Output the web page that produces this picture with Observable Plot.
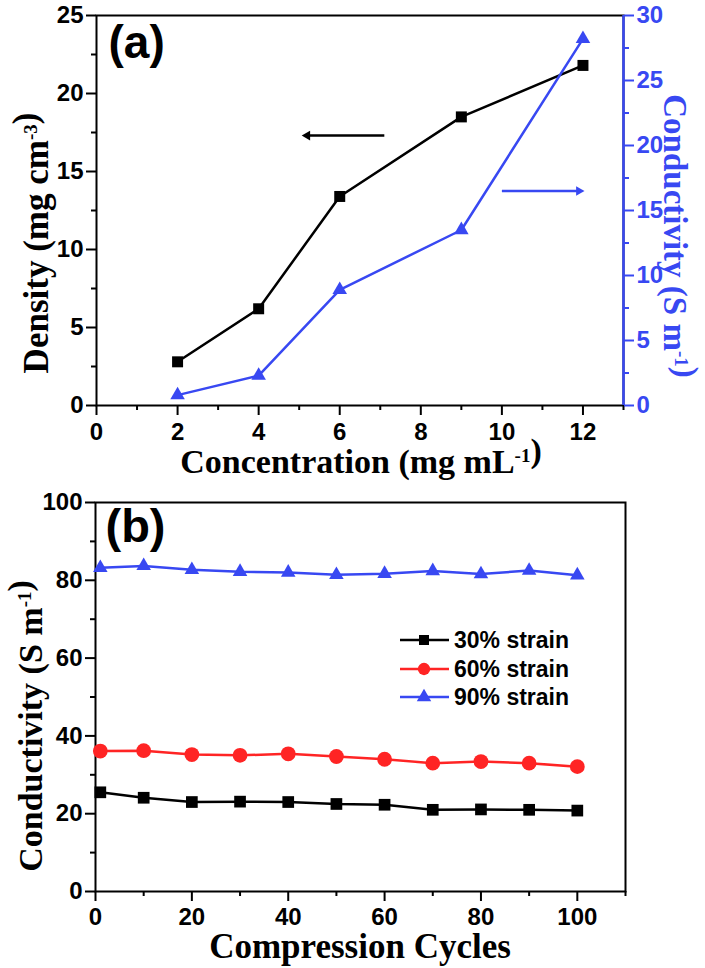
<!DOCTYPE html>
<html>
<head>
<meta charset="utf-8">
<script src="https://cdn.jsdelivr.net/npm/d3@7"></script>
<script src="https://cdn.jsdelivr.net/npm/@observablehq/plot@0.6"></script>
<style>
  body { margin: 0; background: #fff; }
  #wrap { position: relative; width: 705px; height: 968px; overflow: hidden; background: #fff; }
  #wrap > svg, #wrap > div { position: absolute; left: 0; }
</style>
</head>
<body>
<div id="wrap"></div>
<script>
// ---------- Panel (a) data ----------
const concA = [2, 4, 6, 9, 12];
const densityA = [2.8, 6.2, 13.4, 18.5, 21.8];
const condA = [0.8, 2.3, 8.9, 13.5, 28.2];
const xDomainA = [0, 13];
const yDomainDensity = [0, 25];
const yDomainCond = [0, 30];
const xMajorA = [0, 2, 4, 6, 8, 10, 12];
const xMinorA = [1, 3, 5, 7, 9, 11, 13];
const yMajorDensity = [0, 5, 10, 15, 20, 25];
const yMinorDensity = [2.5, 7.5, 12.5, 17.5, 22.5];
const yMajorCond = [0, 5, 10, 15, 20, 25, 30];
const yMinorCond = [2.5, 7.5, 12.5, 17.5, 22.5, 27.5];
const arrowDensity = [{x1: 7.1, x2: 5.2, y: 17.3}];
const arrowCond = [{x1: 10.0, x2: 11.9, y: 16.5}];

// ---------- Panel (b) data ----------
const cycles = [1, 10, 20, 30, 40, 50, 60, 70, 80, 90, 100];
const strain30 = [25.5, 24.1, 23.0, 23.1, 23.0, 22.5, 22.3, 21.0, 21.1, 21.0, 20.8];
const strain60 = [36.1, 36.2, 35.2, 35.0, 35.4, 34.7, 34.0, 33.0, 33.4, 33.0, 32.1];
const strain90 = [83.2, 83.7, 82.7, 82.2, 82.0, 81.4, 81.7, 82.4, 81.6, 82.5, 81.3];
const seriesNames = ["30% strain", "60% strain", "90% strain"];
const xDomainB = [0, 110];
const yDomainB = [0, 100];
const xMajorB = [0, 20, 40, 60, 80, 100];
const xMinorB = [10, 30, 50, 70, 90, 110];
const yMajorB = [0, 20, 40, 60, 80, 100];
const yMinorB = [10, 30, 50, 70, 90];

const BLACK = "#000000", RED = "#ff2424", BLUE = "#3848f2";
const SANS = "'Liberation Sans', Arial, sans-serif";
const SERIF = "'Liberation Serif', 'Times New Roman', serif";

const baseStyle = {fontFamily: SANS, fontSize: "24px", fontWeight: "bold", background: "transparent", overflow: "visible", color: BLACK};
const tickStyle = {tickSize: 10, strokeWidth: 2, label: null, fontSize: 24, fontWeight: "bold", fontFamily: SANS};
const minorStyle = {tickSize: 5, strokeWidth: 2, label: null, tickFormat: () => ""};

const tableA = concA.map((c, i) => ({c, density: densityA[i], cond: condA[i]}));
const tableB = [];
[strain30, strain60, strain90].forEach((arr, k) => arr.forEach((v, i) => tableB.push({cycle: cycles[i], value: v, series: seriesNames[k]})));

const wrap = document.getElementById("wrap");

const mA = {top: 15, right: 82, bottom: 75, left: 96};
const mB = {top: 22, right: 80, bottom: 77, left: 95};

// Panel (a) – density (left axis)
const plotA = Plot.plot({
  width: 705, height: 480,
  marginTop: mA.top, marginRight: mA.right, marginBottom: mA.bottom, marginLeft: mA.left,
  x: {domain: xDomainA},
  y: {domain: yDomainDensity},
  style: baseStyle,
  marks: [
    Plot.frame({stroke: BLACK, strokeWidth: 2}),
    Plot.axisX(xMajorA, {...tickStyle, tickPadding: 7}),
    Plot.axisX(xMinorA, minorStyle),
    Plot.axisY(yMajorDensity, {...tickStyle, anchor: "left", tickPadding: 3}),
    Plot.axisY(yMinorDensity, {...minorStyle, anchor: "left"}),
    Plot.line(tableA, {x: "c", y: "density", stroke: BLACK, strokeWidth: 2.5}),
    Plot.dot(tableA, {x: "c", y: "density", symbol: "square", r: 6.2, fill: BLACK, stroke: "none"}),
    Plot.link(arrowDensity, {x1: "x1", x2: "x2", y1: "y", y2: "y", stroke: BLACK, strokeWidth: 2.5}),
    Plot.dot(arrowDensity, {x: "x2", y: "y", symbol: "triangle", rotate: -90, r: 3.6, fill: BLACK, stroke: "none"}),
    Plot.text(["(a)"], {frameAnchor: "top-left", dx: 12, dy: 10, fontSize: 46, fontWeight: "bold", fontFamily: SANS, fill: BLACK})
  ]
});
plotA.style.top = "0px";
wrap.appendChild(plotA);

// Panel (a) – conductivity overlay (right axis)
const plotA2 = Plot.plot({
  width: 705, height: 480,
  marginTop: mA.top, marginRight: mA.right, marginBottom: mA.bottom, marginLeft: mA.left,
  x: {domain: xDomainA, axis: null},
  y: {domain: yDomainCond},
  style: {...baseStyle, color: BLUE},
  marks: [
    Plot.ruleX([xDomainA[1]], {stroke: BLUE, strokeWidth: 2.5}),
    Plot.axisY(yMajorCond, {...tickStyle, anchor: "right", tickPadding: 3, color: BLUE}),
    Plot.axisY(yMinorCond, {...minorStyle, anchor: "right", color: BLUE}),
    Plot.line(tableA, {x: "c", y: "cond", stroke: BLUE, strokeWidth: 2.5}),
    Plot.dot(tableA, {x: "c", y: "cond", symbol: "triangle", r: 5.4, fill: BLUE, stroke: "none"}),
    Plot.link(arrowCond, {x1: "x1", x2: "x2", y1: "y", y2: "y", stroke: BLUE, strokeWidth: 2.5}),
    Plot.dot(arrowCond, {x: "x2", y: "y", symbol: "triangle", rotate: 90, r: 3.6, fill: BLUE, stroke: "none"})
  ]
});
plotA2.style.top = "0px";
wrap.appendChild(plotA2);

// Panel (b)
const colorOf = {"30% strain": BLACK, "60% strain": RED, "90% strain": BLUE};
const symbolOf = {"30% strain": "square", "60% strain": "circle", "90% strain": "triangle"};
const rOf = {"30% strain": 6.6, "60% strain": 7.4, "90% strain": 5.4};
const plotB = Plot.plot({
  width: 705, height: 488,
  marginTop: mB.top, marginRight: mB.right, marginBottom: mB.bottom, marginLeft: mB.left,
  x: {domain: xDomainB},
  y: {domain: yDomainB},
  style: baseStyle,
  marks: [
    Plot.frame({stroke: BLACK, strokeWidth: 2}),
    Plot.axisX(xMajorB, {...tickStyle, tickPadding: 6}),
    Plot.axisX(xMinorB, minorStyle),
    Plot.axisY(yMajorB, {...tickStyle, anchor: "left", tickPadding: 3}),
    Plot.axisY(yMinorB, {...minorStyle, anchor: "left"}),
    ...seriesNames.map(s => Plot.line(tableB.filter(d => d.series === s), {x: "cycle", y: "value", stroke: colorOf[s], strokeWidth: 2.5})),
    ...seriesNames.map(s => Plot.dot(tableB.filter(d => d.series === s), {x: "cycle", y: "value", symbol: symbolOf[s], r: rOf[s], fill: colorOf[s], stroke: "none"})),
    Plot.text(["(b)"], {frameAnchor: "top-left", dx: 10, dy: 6, fontSize: 47, fontWeight: "bold", fontFamily: SANS, fill: BLACK})
  ]
});
plotB.style.top = "480px";
wrap.appendChild(plotB);

// Overlay: axis titles and legend
const ov = d3.select(wrap).append("svg")
  .attr("width", 705).attr("height", 968)
  .style("top", "0px").style("pointer-events", "none");

function title(sel, parts, fill, size) {
  const t = sel.append("text")
    .attr("text-anchor", "middle")
    .attr("font-family", SERIF).attr("font-weight", "bold").attr("font-size", size || 34)
    .attr("fill", fill);
  parts.forEach(p => {
    if (p.sup) {
      t.append("tspan").attr("font-size", 19).attr("dy", "-0.6em").text(p.sup);
      t.append("tspan").attr("dy", "0.34em").text("");
    } else {
      t.append("tspan").text(p.t);
    }
  });
  return t;
}
title(ov.append("g").attr("transform", "translate(48,243) rotate(-90)"),
  [{t: "Density (mg cm"}, {sup: "-3"}, {t: ")"}], BLACK, 35);
title(ov.append("g").attr("transform", "translate(664,236) rotate(90)"),
  [{t: "Conductivity (S m"}, {sup: "-1"}, {t: ")"}], BLUE, 33);
title(ov.append("g").attr("transform", "translate(361,473)"),
  [{t: "Concentration (mg mL"}, {sup: "-1"}, {t: ")"}], BLACK, 34);
title(ov.append("g").attr("transform", "translate(42,726) rotate(-90)"),
  [{t: "Conductivity (S m"}, {sup: "-1"}, {t: ")"}], BLACK, 34);
title(ov.append("g").attr("transform", "translate(360,958)"),
  [{t: "Compression Cycles"}], BLACK, 35);

// Legend for panel (b)
const legendRows = [640, 669, 697];
const symD3 = {"30% strain": d3.symbolSquare, "60% strain": d3.symbolCircle, "90% strain": d3.symbolTriangle};
const symSize = {"30% strain": 100, "60% strain": 120, "90% strain": 90};
seriesNames.forEach((s, i) => {
  const g = ov.append("g").attr("transform", `translate(0,${legendRows[i]})`);
  g.append("line").attr("x1", 400).attr("x2", 449).attr("y1", 0).attr("y2", 0)
    .attr("stroke", colorOf[s]).attr("stroke-width", 2.5);
  g.append("path").attr("transform", "translate(424,0)")
    .attr("d", d3.symbol(symD3[s], symSize[s])()).attr("fill", colorOf[s]);
  g.append("text").attr("x", 454).attr("y", 0).attr("dy", "0.36em")
    .attr("font-family", SANS).attr("font-weight", "bold").attr("font-size", 23)
    .attr("fill", BLACK).text(s);
});
</script>
</body>
</html>
